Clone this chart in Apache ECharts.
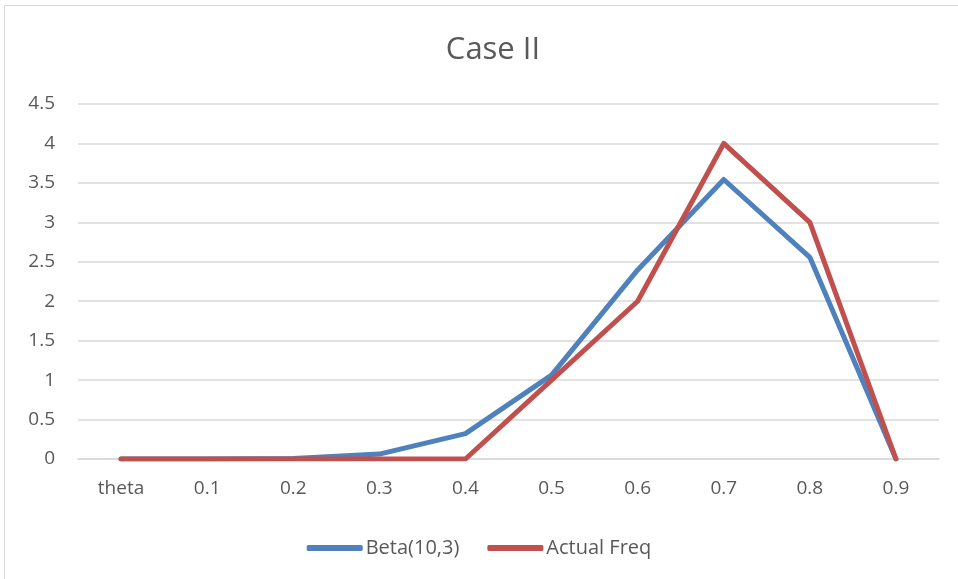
<!DOCTYPE html>
<html lang="en">
<head>
    <meta charset="UTF-8">
    <title>Case II</title>
    <style>
        body { margin: 0; background: #fff; }
    </style>
</head>
<body>
<div id="demo" style="width:958px;height:579px"></div>
<script src="https://cdn.jsdelivr.net/npm/echarts@6/dist/echarts.min.js"></script>
<script type="text/javascript">
    var categories = ['theta', '0.1', '0.2', '0.3', '0.4', '0.5', '0.6', '0.7', '0.8', '0.9'];
    var betaData = [0, 0.0002, 0.006, 0.062, 0.322, 1.064, 2.397, 3.543, 2.557, 0];
    var actualData = [0, 0, 0, 0, 0, 1, 2, 4, 3, 0];
    var yTicks = { min: 0, max: 4.5, interval: 0.5 };

    var font = '"Open Sans", "Noto Sans", sans-serif';
    var myChart = echarts.init(document.getElementById('demo'));
    var option = {
        backgroundColor: '#fff',
        animation: false,
        graphic: [{
            type: 'rect',
            shape: { x: 4.5, y: 5.5, width: 960, height: 580 },
            style: { fill: 'none', stroke: '#d9d9d9', lineWidth: 1 },
            silent: true
        }],
        title: {
            text: 'Case II',
            left: 488,
            top: 30,
            textAlign: 'center',
            textStyle: { color: '#595959', fontSize: 31, fontWeight: 'normal', fontFamily: font }
        },
        legend: {
            bottom: 16,
            left: 'center',
            itemWidth: 56,
            itemHeight: 6,
            itemGap: 28,
            icon: 'roundRect',
            textStyle: { color: '#595959', fontSize: 20, fontFamily: font, padding: [0, 0, 0, -2] },
            data: ['Beta(10,3)', 'Actual Freq']
        },
        grid: { left: 78, right: 19, top: 104, bottom: 120 },
        xAxis: {
            type: 'category',
            data: categories,
            boundaryGap: true,
            axisLine: { lineStyle: { color: '#d9d9d9', width: 1.5 } },
            axisTick: { show: false },
            axisLabel: { color: '#595959', fontSize: 19, fontFamily: font, margin: 20 }
        },
        yAxis: {
            type: 'value',
            min: yTicks.min,
            max: yTicks.max,
            interval: yTicks.interval,
            axisLine: { show: false },
            axisTick: { show: false },
            axisLabel: { color: '#595959', fontSize: 19, fontFamily: font, margin: 23 },
            splitLine: { lineStyle: { color: '#d9d9d9', width: 1.5 } }
        },
        series: [{
            name: 'Beta(10,3)',
            type: 'line',
            data: betaData,
            symbol: 'none',
            itemStyle: { color: '#4f81bd' },
            lineStyle: { color: '#4f81bd', width: 5, cap: 'round', join: 'round' }
        }, {
            name: 'Actual Freq',
            type: 'line',
            data: actualData,
            symbol: 'none',
            itemStyle: { color: '#c0504d' },
            lineStyle: { color: '#c0504d', width: 5, cap: 'round', join: 'round' }
        }]
    };
    myChart.setOption(option);
</script>
</body>
</html>
